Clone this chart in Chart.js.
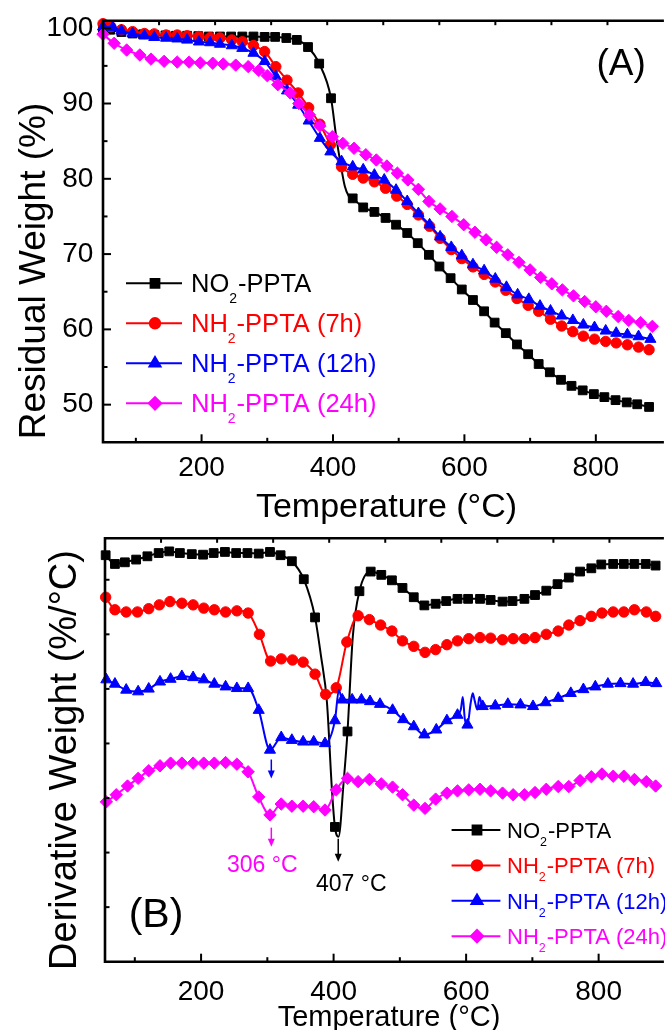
<!DOCTYPE html>
<html><head><meta charset="utf-8">
<script src="https://cdn.jsdelivr.net/npm/chart.js@4.4.1/dist/chart.umd.min.js"></script>
<style>
html,body{margin:0;padding:0;background:#fff;overflow:hidden;}
#wa{position:absolute;left:0;top:0;width:665px;height:530px;}
#wb{position:absolute;left:0;top:530px;width:665px;height:500px;}
</style></head><body>
<div id="wa"><canvas id="ca"></canvas></div>
<div id="wb"><canvas id="cb"></canvas></div>
<script>
// ===== Panel A: residual weight (%) vs temperature (°C) — [T, W] =====
const tgaNO2 = [[50,100.0],[61,99.8],[78,99.5],[95,99.3],[111,99.2],[128,99.1],[145,99.05],[161,99.0],[178,99.0],[195,98.95],[211,98.9],[228,98.9],[245,98.9],[262,98.9],[279,98.9],[296,98.85],[312,98.85],[329,98.7],[345,98.45],[362,97.5],[379,95.3],[397,90.7],[430,77.4],[446,76.2],[463,75.6],[480,74.8],[496,73.9],[513,72.8],[529,71.45],[546,69.9],[562,68.35],[579,66.8],[596,65.3],[613,63.9],[630,62.4],[646,60.9],[663,59.5],[680,58.0],[697,56.7],[713,55.4],[730,54.3],[747,53.3],[763,52.5],[780,51.9],[797,51.4],[813,51.0],[830,50.6],[847,50.3],[863,50.05],[881,49.7]];
const tgaNO2Curve = [[405,85.5],[411,82.3],[418,79.0],[424,77.7]];
const tga7h = [[50,100.6],[62,100.2],[78,99.8],[95,99.55],[113,99.3],[128,99.25],[146,99.1],[163,99.1],[178,99.0],[196,98.9],[213,98.75],[228,98.7],[246,98.45],[262,98.2],[279,97.7],[296,96.9],[313,94.9],[330,93.1],[347,91.4],[363,89.45],[380,87.25],[396,84.5],[413,81.6],[430,80.6],[446,80.1],[463,79.6],[480,78.75],[497,77.7],[513,76.6],[530,75.2],[547,73.7],[563,72.1],[580,70.6],[596,69.4],[613,68.3],[630,67.3],[647,66.3],[663,65.2],[680,64.1],[697,63.2],[713,62.4],[731,61.35],[748,60.45],[765,59.7],[781,59.1],[798,58.7],[815,58.4],[831,58.2],[848,57.95],[865,57.65],[881,57.3]];
const tga12h = [[50,100.2],[65,100.1],[78,99.65],[95,99.3],[113,99.0],[128,98.8],[146,98.7],[163,98.6],[178,98.45],[196,98.2],[213,98.1],[228,97.9],[246,97.7],[262,97.35],[279,96.7],[296,95.6],[313,93.6],[330,91.7],[347,89.8],[363,87.7],[380,85.4],[396,83.6],[413,82.3],[430,81.6],[446,81.2],[463,80.5],[478,79.85],[496,78.5],[513,77.0],[530,75.4],[547,73.9],[563,72.3],[580,70.9],[596,69.8],[613,68.6],[630,67.8],[647,66.7],[664,65.6],[681,64.6],[698,64.0],[715,63.1],[731,62.45],[748,61.8],[765,61.2],[781,60.6],[798,60.25],[815,59.8],[831,59.5],[848,59.3],[865,59.05],[883,58.7]];
const tga24h = [[50,99.2],[67,98.0],[86,97.1],[106,96.45],[123,95.9],[143,95.6],[163,95.5],[181,95.5],[198,95.4],[217,95.35],[233,95.25],[252,95.1],[271,94.9],[287,94.4],[300,93.7],[316,92.5],[335,91.4],[348,90.0],[364,88.5],[380,87.0],[399,85.6],[415,84.7],[432,84.05],[450,83.2],[466,82.5],[482,81.7],[498,80.75],[514,79.85],[530,78.6],[546,77.0],[563,76.0],[581,75.0],[599,73.9],[616,72.9],[633,71.9],[649,70.9],[666,69.9],[683,68.9],[700,67.9],[716,66.9],[733,66.05],[749,65.25],[766,64.45],[783,63.7],[800,63.0],[816,62.4],[834,61.7],[850,61.2],[868,60.9],[886,60.4]];

// ===== Panel B: derivative weight (offset curves, arbitrary units) — [T, value] =====
const dtgNO2 = [[56,7.45],[70,7.29],[85,7.32],[102,7.37],[119,7.43],[136,7.49],[152,7.52],[168,7.49],[186,7.47],[203,7.46],[219,7.49],[236,7.51],[253,7.49],[270,7.49],[287,7.48],[304,7.51],[320,7.45],[337,7.34],[355,7.01],[372,6.31],[402,2.47],[421,4.22],[439,6.79],[456,7.15],[472,7.09],[488,6.99],[504,6.85],[521,6.68],[537,6.53],[554,6.56],[570,6.61],[587,6.65],[603,6.65],[621,6.65],[637,6.63],[655,6.60],[670,6.61],[688,6.65],[704,6.72],[721,6.80],[738,6.92],[755,7.04],[772,7.15],[789,7.21],[804,7.28],[822,7.29],[838,7.29],[854,7.29],[871,7.29],[886,7.26]];
const dtgNO2Curve = [[381,5.6],[390,4.75],[397.5,3.15],[407.5,2.29],[415,3.27],[429,5.96]];
const dtg7h = [[56,6.68],[70,6.45],[87,6.41],[104,6.41],[121,6.47],[137,6.54],[153,6.60],[171,6.57],[188,6.54],[204,6.48],[220,6.45],[237,6.41],[254,6.43],[271,6.39],[288,6.00],[305,5.51],[321,5.55],[338,5.53],[354,5.49],[372,5.27],[388,4.90],[404,5.02],[420,5.86],[437,6.34],[454,6.27],[471,6.17],[488,6.06],[504,5.88],[521,5.78],[538,5.67],[554,5.72],[571,5.81],[587,5.88],[604,5.92],[621,5.94],[637,5.93],[655,5.90],[671,5.92],[688,5.92],[704,5.94],[721,6.00],[739,6.06],[755,6.17],[772,6.25],[789,6.33],[805,6.39],[822,6.41],[838,6.41],[854,6.45],[872,6.41],[886,6.33]];
const dtg12h = [[57,5.17],[70,5.09],[87,4.98],[105,4.95],[121,5.00],[138,5.13],[154,5.18],[171,5.23],[188,5.21],[204,5.17],[220,5.09],[237,5.04],[254,5.01],[271,5.01],[287,4.61],[304,3.88],[321,4.11],[337,4.06],[354,4.03],[370,4.03],[387,4.00],[402,4.42],[413,4.80],[428,4.80],[442,4.80],[455,4.77],[470,4.72],[489,4.61],[505,4.44],[521,4.31],[537,4.16],[555,4.25],[571,4.42],[587,4.52],[602,4.34],[625,4.68],[644,4.69],[663,4.72],[682,4.71],[701,4.68],[720,4.75],[739,4.83],[758,4.92],[777,4.99],[795,5.04],[814,5.09],[833,5.10],[852,5.09],[871,5.12],[887,5.10]];
const dtg12hCurve = [[408,4.98],[592,4.62],[595,4.85],[598,4.45],[607,4.75],[610,4.92],[613,4.78],[617,4.62],[620,4.85]];
const dtg24h = [[57,2.93],[72,3.06],[89,3.22],[105,3.36],[121,3.50],[138,3.59],[154,3.64],[171,3.64],[188,3.64],[204,3.64],[220,3.64],[237,3.65],[254,3.62],[271,3.48],[287,3.02],[304,2.69],[321,2.89],[337,2.85],[354,2.85],[370,2.84],[387,2.78],[404,3.15],[421,3.36],[437,3.30],[454,3.34],[472,3.26],[489,3.20],[504,3.06],[521,2.87],[538,2.81],[554,2.98],[571,3.09],[587,3.13],[604,3.15],[621,3.16],[637,3.13],[655,3.09],[671,3.06],[688,3.06],[704,3.10],[721,3.16],[739,3.21],[755,3.21],[772,3.32],[789,3.39],[805,3.44],[822,3.40],[838,3.40],[854,3.34],[872,3.30],[886,3.22]];

// ===== ticks / labels =====
const tempMajorTicks = [200,400,600,800];
const tempMinorTicks = [100,300,500,700];
const weightMajorTicks = [50,60,70,80,90,100];
const weightMinorTicks = [55,65,75,85,95];
const derivTicks = [1,2,3,4,5,6,7];
const topTicks = [1,2,3,4,5,6,7,8,9];
const peakTemps = [306,407];
const seriesNames = [
  [['NO',0],['2',1],['-PPTA',0]],
  [['NH',0],['2',1],['-PPTA (7h)',0]],
  [['NH',0],['2',1],['-PPTA (12h)',0]],
  [['NH',0],['2',1],['-PPTA (24h)',0]]
];

const F = '"Liberation Sans", Arial, Helvetica, sans-serif';
const styles = [
  {color:'#000000', pointStyle:'rect', radius:6.2},
  {color:'#ff0000', pointStyle:'circle', radius:5.2},
  {color:'#0000ff', pointStyle:'triangle', radius:6.4},
  {color:'#ff00ff', pointStyle:'rectRot', radius:6.2}
];

function buildDatasets(markers, curves) {
  const ds = [];
  markers.forEach((m, i) => {
    const st = styles[i];
    const line = m.concat(curves[i] || []).sort((a,b)=>a[0]-b[0]).map(p=>({x:p[0],y:p[1]}));
    ds.push({data: line, showLine: true, borderColor: st.color, backgroundColor: st.color, borderWidth: 2,
      pointRadius: 0, cubicInterpolationMode: 'monotone', order: 2*(3-i)+1, clip: false, fill: false});
    ds.push({data: m.map(p=>({x:p[0],y:p[1]})), showLine: false, pointStyle: st.pointStyle,
      pointRadius: st.radius, backgroundColor: st.color, borderColor: st.color, borderWidth: 1,
      order: 2*(3-i), clip: false});
  });
  return ds;
}

function lineValueAt(markers, curve, t) {
  const pts = markers.concat(curve || []).sort((a,b)=>a[0]-b[0]);
  for (let i = 1; i < pts.length; i++) {
    if (pts[i][0] >= t) {
      const a = pts[i-1], b = pts[i];
      return a[1] + (b[1]-a[1]) * (t - a[0]) / (b[0] - a[0]);
    }
  }
  return pts[pts.length-1][1];
}

function tickLine(ctx, x1, y1, x2, y2) { ctx.beginPath(); ctx.moveTo(x1,y1); ctx.lineTo(x2,y2); ctx.stroke(); }

function drawFrame(ctx, a) {
  ctx.save();
  ctx.strokeStyle = '#000'; ctx.lineWidth = 2.6; ctx.lineCap = 'square'; ctx.lineJoin = 'miter';
  ctx.beginPath();
  ctx.moveTo(a.right + 5, a.top); ctx.lineTo(a.left, a.top); ctx.lineTo(a.left, a.bottom); ctx.lineTo(a.right + 5, a.bottom);
  ctx.stroke();
  ctx.restore();
}

function drawChem(ctx, parts, x, y, size, subSize, subDrop) {
  ctx.textAlign = 'left'; ctx.textBaseline = 'alphabetic';
  parts.forEach(([txt, sub]) => {
    ctx.font = (sub ? subSize : size) + 'px ' + F;
    ctx.fillText(txt, x, sub ? y + subDrop : y);
    x += ctx.measureText(txt).width + (sub ? 1 : 0);
  });
}

function drawMarker(ctx, st, x, y) {
  ctx.fillStyle = st.color; ctx.strokeStyle = st.color;
  Chart.helpers.drawPoint(ctx, {pointStyle: st.pointStyle, radius: st.radius, rotation: 0, borderWidth: 1}, x, y);
}

function drawLegend(ctx, x0, x1, xm, xt, y0, dy, size, subSize, subDrop, capHalf) {
  seriesNames.forEach((parts, i) => {
    const st = styles[i];
    const y = y0 + i * dy;
    ctx.save();
    ctx.strokeStyle = st.color; ctx.lineWidth = 2;
    tickLine(ctx, x0, y, x1, y);
    drawMarker(ctx, st, xm, y);
    ctx.fillStyle = st.color;
    drawChem(ctx, parts, xt, y + capHalf, size, subSize, subDrop);
    ctx.restore();
  });
}

function drawArrow(ctx, x, y1, y2, color) {
  ctx.save();
  ctx.strokeStyle = color; ctx.fillStyle = color; ctx.lineWidth = 1.5;
  tickLine(ctx, x, y1, x, y2 - 6);
  ctx.beginPath(); ctx.moveTo(x - 3.5, y2 - 8); ctx.lineTo(x + 3.5, y2 - 8); ctx.lineTo(x, y2); ctx.closePath(); ctx.fill();
  ctx.restore();
}

const panelAPlugin = {
  id: 'panelA',
  afterDatasetsDraw(chart) {
    const {ctx, chartArea: a} = chart;
    const sx = chart.scales.x, sy = chart.scales.y, st = chart.scales.xTop;
    drawFrame(ctx, a);
    ctx.save();
    ctx.strokeStyle = '#000'; ctx.lineWidth = 2;
    tempMajorTicks.forEach(v => { const x = sx.getPixelForValue(v); tickLine(ctx, x, a.bottom, x, a.bottom - 8); });
    tempMinorTicks.forEach(v => { const x = sx.getPixelForValue(v); tickLine(ctx, x, a.bottom, x, a.bottom - 4.5); });
    weightMajorTicks.forEach(v => { const y = sy.getPixelForValue(v); tickLine(ctx, a.left, y, a.left + 8, y); });
    weightMinorTicks.forEach(v => { const y = sy.getPixelForValue(v); tickLine(ctx, a.left, y, a.left + 4.5, y); });
    topTicks.forEach(v => { const x = st.getPixelForValue(v); tickLine(ctx, x, a.top, x, a.top + 4.5); });
    ctx.fillStyle = '#000';
    ctx.font = '28px ' + F;
    ctx.textAlign = 'center'; ctx.textBaseline = 'alphabetic';
    tempMajorTicks.forEach(v => ctx.fillText(String(v), sx.getPixelForValue(v), a.bottom + 33.7));
    ctx.textAlign = 'right'; ctx.textBaseline = 'middle';
    weightMajorTicks.forEach(v => ctx.fillText(String(v), a.left - 9.7, sy.getPixelForValue(v)));
    // axis titles
    ctx.textAlign = 'center'; ctx.textBaseline = 'alphabetic';
    ctx.font = '34px ' + F;
    ctx.fillText('Temperature (°C)', 386.5, 517.3);
    ctx.save();
    ctx.translate(44.5, 271); ctx.rotate(-Math.PI / 2);
    ctx.font = '37px ' + F;
    ctx.fillText('Residual Weight (%)', 0, 0);
    ctx.restore();
    ctx.font = '37px ' + F;
    ctx.fillText('(A)', 621.2, 75);
    ctx.restore();
    drawLegend(ctx, 126, 182, 155, 191, 283.3, 40, 25.5, 14, 10.5, 8.8);
  }
};

const panelBPlugin = {
  id: 'panelB',
  afterDatasetsDraw(chart) {
    const {ctx, chartArea: a} = chart;
    const sx = chart.scales.x, sy = chart.scales.y, st = chart.scales.xTop;
    drawFrame(ctx, a);
    ctx.save();
    ctx.strokeStyle = '#000'; ctx.lineWidth = 2;
    tempMajorTicks.forEach(v => { const x = sx.getPixelForValue(v); tickLine(ctx, x, a.bottom, x, a.bottom - 8); });
    tempMinorTicks.forEach(v => { const x = sx.getPixelForValue(v); tickLine(ctx, x, a.bottom, x, a.bottom - 4.5); });
    derivTicks.forEach(v => { const y = sy.getPixelForValue(v); tickLine(ctx, a.left, y, a.left + 4.5, y); });
    topTicks.forEach(v => { const x = st.getPixelForValue(v); tickLine(ctx, x, a.top, x, a.top + 4.5); });
    ctx.fillStyle = '#000';
    ctx.font = '28px ' + F;
    ctx.textAlign = 'center'; ctx.textBaseline = 'alphabetic';
    tempMajorTicks.forEach(v => ctx.fillText(String(v), sx.getPixelForValue(v), a.bottom + 38.3));
    ctx.font = '29px ' + F;
    ctx.fillText('Temperature (°C)', 389, 496);
    ctx.save();
    ctx.translate(76, 230); ctx.rotate(-Math.PI / 2);
    ctx.font = '38px ' + F;
    ctx.fillText('Derivative Weight (%/°C)', 0, 0);
    ctx.restore();
    ctx.font = '41px ' + F;
    ctx.fillText('(B)', 156, 397);
    ctx.restore();

    // peak arrows and labels
    const t1 = peakTemps[0], t2 = peakTemps[1];
    const x1 = sx.getPixelForValue(t1), x2 = sx.getPixelForValue(t2);
    const yBlue = sy.getPixelForValue(lineValueAt(dtg12h, dtg12hCurve, t1));
    const yMag = sy.getPixelForValue(lineValueAt(dtg24h, [], t1));
    const yBlk = sy.getPixelForValue(lineValueAt(dtgNO2, dtgNO2Curve, t2));
    drawArrow(ctx, x1, yBlue + 11, yBlue + 30, '#0000ff');
    drawArrow(ctx, x1, yMag + 14, yMag + 33, '#ff00ff');
    drawArrow(ctx, x2, yBlk + 3, yBlk + 26, '#000000');
    ctx.save();
    ctx.font = '23px ' + F; ctx.textAlign = 'center'; ctx.textBaseline = 'alphabetic';
    ctx.fillStyle = '#ff00ff';
    ctx.fillText(t1 + ' °C', x1 - 9, yMag + 58);
    ctx.fillStyle = '#000000';
    ctx.fillText(t2 + ' °C', x2 + 13, yBlk + 55);
    ctx.restore();

    drawLegend(ctx, 451.6, 500.4, 477, 507, 300, 35.4, 22, 12.5, 8, 7.8);
  }
};

function baseOptions(xmin, xmax, ymin, ymax, topMax, pad) {
  return {
    responsive: true, maintainAspectRatio: false, animation: false, events: [],
    layout: {padding: pad},
    plugins: {legend: {display: false}, tooltip: {enabled: false}},
    scales: {
      x: {type: 'linear', display: false, min: xmin, max: xmax},
      xTop: {type: 'linear', axis: 'x', position: 'top', display: false, min: 0, max: topMax},
      y: {type: 'linear', display: false, min: ymin, max: ymax}
    }
  };
}

new Chart(document.getElementById('ca'), {
  type: 'scatter',
  data: {datasets: buildDatasets([tgaNO2, tga7h, tga12h, tga24h], [tgaNO2Curve, [], [], []])},
  options: baseOptions(50, 894, 45, 101, 562 / 56.8, {left: 103, top: 20.7, right: 0, bottom: 87.7}),
  plugins: [panelAPlugin]
});

new Chart(document.getElementById('cb'), {
  type: 'scatter',
  data: {datasets: buildDatasets([dtgNO2, dtg7h, dtg12h, dtg24h], [dtgNO2Curve, [], dtg12hCurve, []])},
  options: baseOptions(55, 889, 0, 7.76, 560 / 56.8, {left: 105, top: 8.3, right: 0, bottom: 68.3}),
  plugins: [panelBPlugin]
});
</script>
</body></html>
